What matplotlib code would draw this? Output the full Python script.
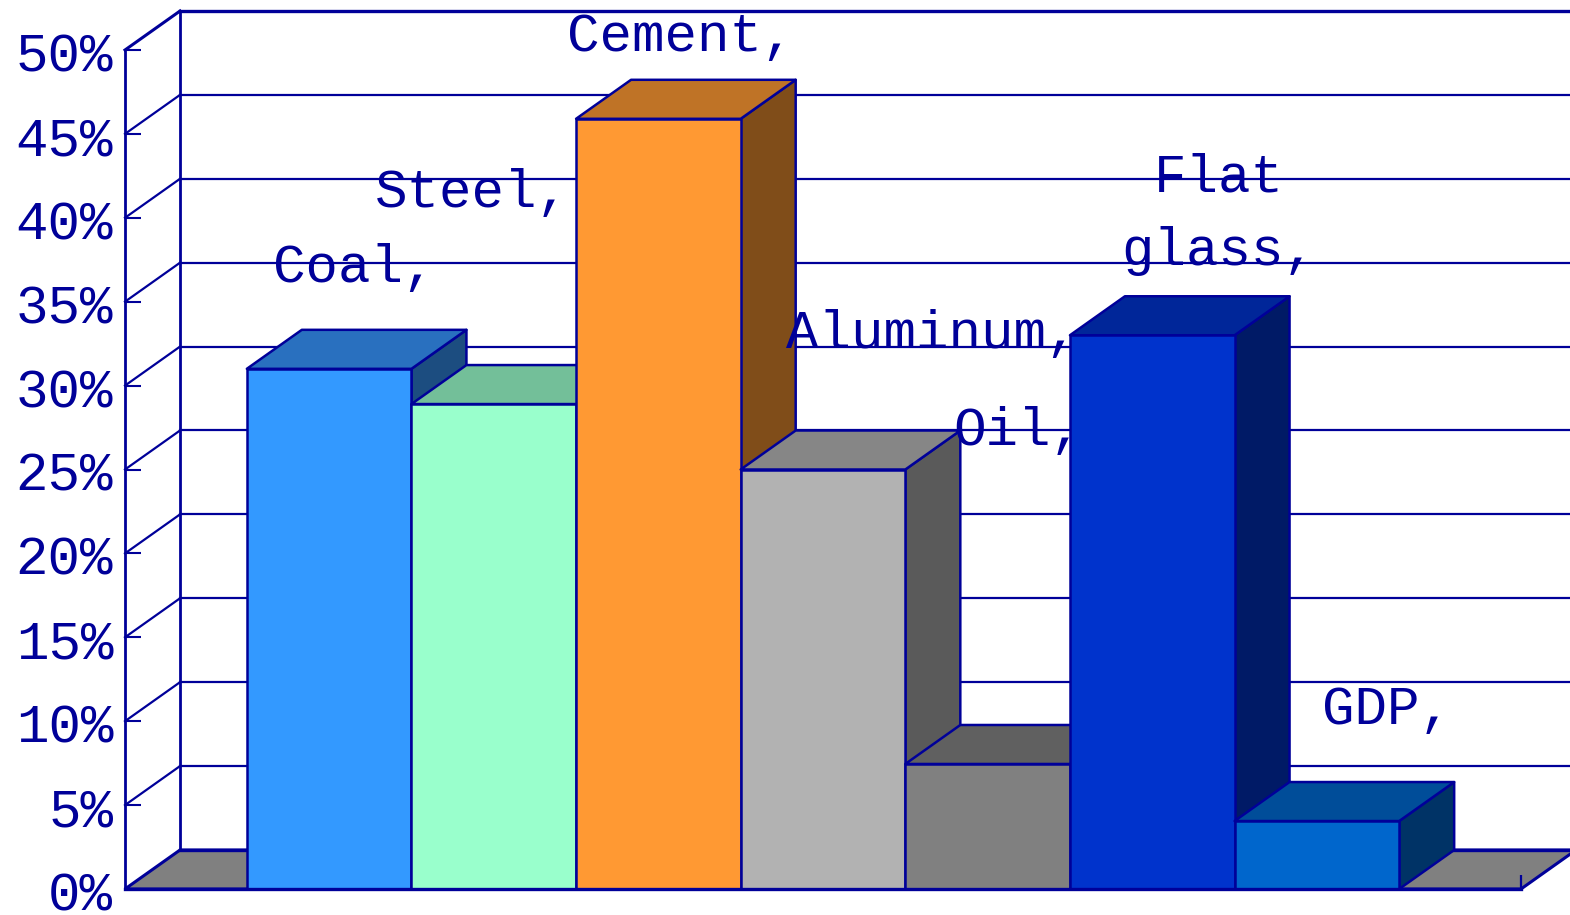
import matplotlib
matplotlib.use("Agg")
import matplotlib.pyplot as plt
from matplotlib.patches import Polygon
from matplotlib.transforms import ScaledTranslation

categories = ["Coal,", "Steel,", "Cement,", "Aluminum,", "Oil,", "Flat\nglass,", "GDP,"]
values = [31.0, 28.9, 45.9, 25.0, 7.45, 33.0, 4.05]
front_colors = ["#3399FF", "#99FFCC", "#FF9933", "#B2B2B2", "#808080", "#0033CC", "#0066CC"]
top_colors = ["#2970BF", "#73BF99", "#BF7326", "#868686", "#606060", "#002699", "#004D99"]
side_colors = ["#1C4D80", "#4D8066", "#804D19", "#5A5A5A", "#404040", "#001A66", "#003366"]
y_ticks = [0, 5, 10, 15, 20, 25, 30, 35, 40, 45, 50]
y_labels = ["0%", "5%", "10%", "15%", "20%", "25%", "30%", "35%", "40%", "45%", "50%"]
label_offsets_px = [(25, 101), (-21, 211), (22, 82), (109, 135), (31, 333), (67, 121), (70, 111)]

INK = "#000099"
W, H = 1570, 915
L, R, B0, T50 = 125, 1521, 889, 50
DX_PX, DY_PX = 55, 39

plt.rcParams["font.family"] = ["Liberation Mono", "DejaVu Sans Mono"]
fig = plt.figure(figsize=(W / 100, H / 100), dpi=100, facecolor="white")
ax = fig.add_axes([L / W, 1 - B0 / H, (R - L) / W, (B0 - T50) / H])
ax.set_facecolor("none")

gap = 0.74
ax.set_xlim(-0.5 - gap, len(values) - 0.5 + gap)
ax.set_ylim(0, 50)
px_x = (len(values) + 2 * gap) / (R - L)
px_y = 50 / (B0 - T50)
dx, dy = DX_PX * px_x, DY_PX * px_y
x0, x1 = ax.get_xlim()

# floor
ax.add_patch(Polygon([(x0, 0), (x0 + dx, dy), (x1 + dx, dy), (x1, 0)], closed=True,
                     facecolor="#808080", edgecolor=INK, lw=2.2, clip_on=False, zorder=1))
# walls
for t in y_ticks:
    lw = 2.4 if t in (0, 50) else 1.6
    ax.plot([x0 + dx, x1 + dx], [t + dy, t + dy], color=INK, lw=lw, clip_on=False, zorder=1.5)
    if t:
        ax.plot([x0, x0 + dx], [t, t + dy], color=INK, lw=2.2 if t == 50 else 1.6, clip_on=False, zorder=1.5)
ax.plot([x0 + dx, x0 + dx], [dy, 50 + dy], color=INK, lw=2.0, clip_on=False, zorder=1.5)

# bars, painted left to right
for i, v in enumerate(values):
    l, r = i - 0.5, i + 0.5
    z = 2 + i * 0.1
    kw = dict(closed=True, edgecolor=INK, lw=1.8, clip_on=False, zorder=z, joinstyle="round")
    ax.add_patch(Polygon([(r, 0), (r + dx, dy), (r + dx, v + dy), (r, v)], facecolor=side_colors[i], **kw))
    ax.add_patch(Polygon([(l, v), (l + dx, v + dy), (r + dx, v + dy), (r, v)], facecolor=top_colors[i], **kw))
    ax.add_patch(Polygon([(l, 0), (r, 0), (r, v), (l, v)], facecolor=front_colors[i], **kw))

for s in ("top", "right"):
    ax.spines[s].set_visible(False)
ax.spines["left"].set_linewidth(2.0)
ax.spines["left"].set_color(INK)
ax.spines["bottom"].set_linewidth(2.4)
ax.spines["bottom"].set_color(INK)
ax.spines["bottom"].set_zorder(5)

ax.set_yticks(y_ticks)
ax.set_yticklabels(y_labels)
ax.tick_params(axis="y", direction="in", length=11.5, width=1.5, color=INK, labelcolor=INK,
               labelsize=39, pad=8.5)
shift = ScaledTranslation(0, -2 / 100, fig.dpi_scale_trans)
for lab in ax.get_yticklabels():
    lab.set_transform(lab.get_transform() + shift)
ax.set_xticks([x1])
ax.set_xticklabels([""])
ax.tick_params(axis="x", direction="in", length=10, width=1.6, color=INK)

for i, (name, v) in enumerate(zip(categories, values)):
    ax.annotate(name, xy=(i, v), xytext=label_offsets_px[i], textcoords="offset pixels",
                ha="center", va="center", color=INK, fontsize=39, linespacing=1.58,
                annotation_clip=False, zorder=10)

fig.savefig("out.png", dpi=100)
